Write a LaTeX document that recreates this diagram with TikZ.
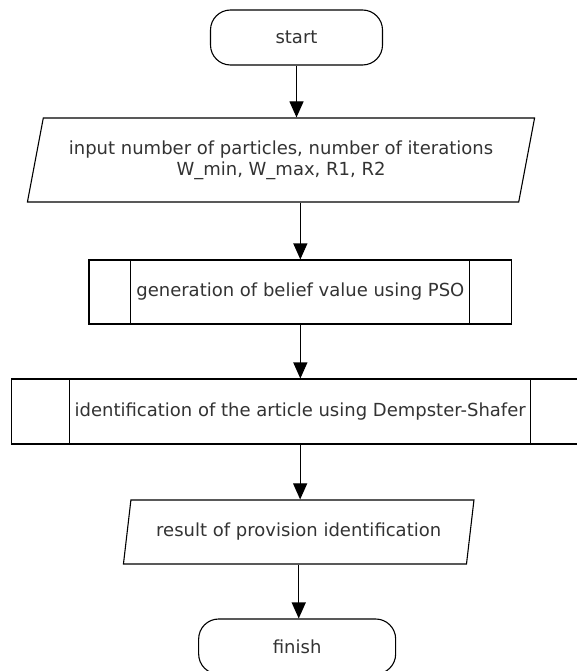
\documentclass[tikz,border=0pt]{standalone}
\usepackage{fontspec}
\setmainfont{DejaVu Sans}
\usetikzlibrary{shapes.geometric,arrows.meta}
\begin{document}
\begin{tikzpicture}[x=1pt,y=1pt,
 line width=1.1pt,
 txt/.style={font=\fontsize{18}{21}\selectfont, text=black!80},
 term/.style={txt, draw, rounded corners=20pt, minimum width=172pt, minimum height=55pt, inner sep=0pt},
 io/.style={txt, draw, trapezium, trapezium left angle=70, trapezium right angle=110, trapezium stretches=true, inner sep=0pt, align=center},
 sub/.style={txt, draw, rectangle, inner sep=0pt},
 arr/.style={-{Triangle[length=16pt,width=14pt]}, line width=1.1pt}]
\useasboundingbox (0,0) rectangle (577,-671);
\fill[white] (0,0) rectangle (577,-671);
\clip (0,0) rectangle (577,-671);
\node[term] (start) at (296.5,-37.5) {start};
\node[io, minimum width=510pt, minimum height=84pt] (in) at (281,-160) {input number of particles, number of iterations\\W\_min, W\_max, R1, R2};
\node[sub, minimum width=422.7pt, minimum height=64pt] (pso) at (300.35,-292) {generation of belief value using PSO};
\node[sub, minimum width=576.9pt, minimum height=65pt] (ds) at (300.15,-411.5) {identification of the article using Dempster-Shafer};
\node[io, minimum width=350.7pt, minimum height=64pt] (res) at (298.7,-532) {result of provision identification};
\node[term, minimum width=197pt] (finish) at (297.15,-646.5) {finish};
\draw ([xshift=42.3pt]pso.north west) -- ([xshift=42.3pt]pso.south west);
\draw ([xshift=-42.4pt]pso.north east) -- ([xshift=-42.4pt]pso.south east);
\draw ([xshift=58.3pt]ds.north west) -- ([xshift=58.3pt]ds.south west);
\draw ([xshift=-58.3pt]ds.north east) -- ([xshift=-58.3pt]ds.south east);
\draw[arr] (start.south) -- (start.south |- in.north);
\draw[arr] (in.south -| pso.north) -- (pso.north);
\draw[arr] (pso.south) -- (pso.south |- ds.north);
\draw[arr] (ds.south) -- (ds.south |- res.north);
\draw[arr] (res.south) -- (res.south |- finish.north);
\end{tikzpicture}
\end{document}
